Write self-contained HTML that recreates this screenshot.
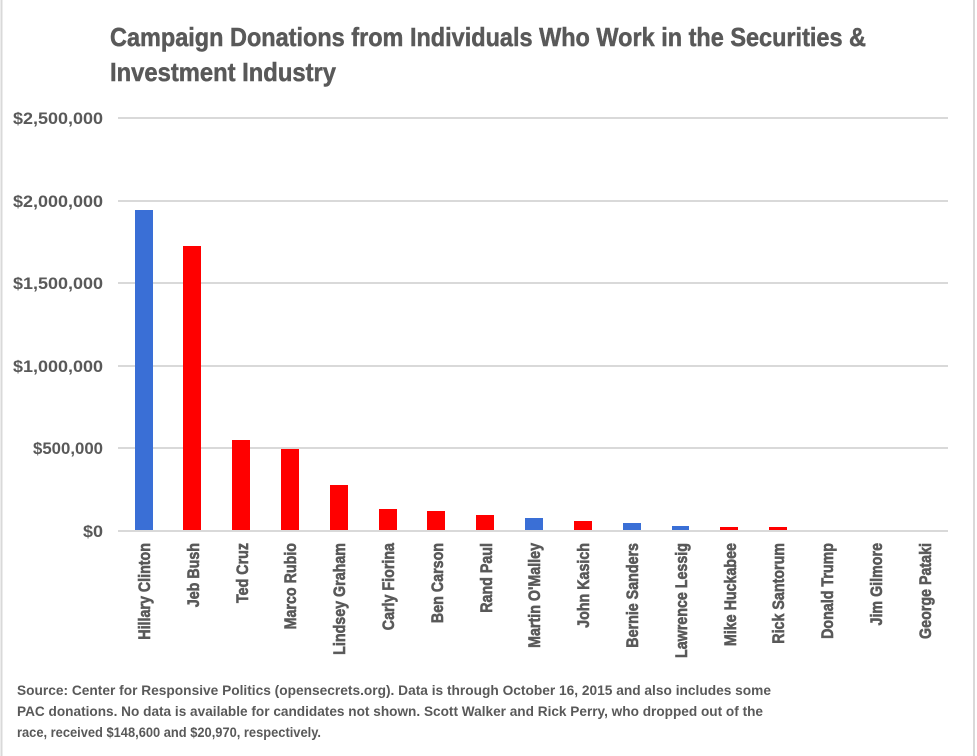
<!DOCTYPE html>
<html><head><meta charset="utf-8"><style>
body{margin:0;background:#fff;}
svg{display:block;font-family:"Liberation Sans",sans-serif;font-weight:bold;}
</style></head><body>
<svg width="977" height="756" viewBox="0 0 977 756">
<rect x="0" y="0" width="977" height="756" fill="#fff"/>
<line x1="1.5" y1="0" x2="1.5" y2="756" stroke="#d9d9d9" stroke-width="2"/>
<line x1="974" y1="0" x2="974" y2="756" stroke="#d9d9d9" stroke-width="2"/>
<g stroke="#595959" stroke-width="0.5">
<text x="110" y="46" font-size="26" fill="#595959" textLength="756" lengthAdjust="spacingAndGlyphs">Campaign Donations from Individuals Who Work in the Securities &amp;</text>
<text x="110" y="81" font-size="26" fill="#595959" textLength="226" lengthAdjust="spacingAndGlyphs">Investment Industry</text>
</g>
<g stroke="#d9d9d9" stroke-width="2">
<line x1="118" y1="118" x2="948" y2="118"/>
<line x1="118" y1="201" x2="948" y2="201"/>
<line x1="118" y1="283" x2="948" y2="283"/>
<line x1="118" y1="366" x2="948" y2="366"/>
<line x1="118" y1="448" x2="948" y2="448"/>
<line x1="118" y1="531" x2="948" y2="531"/>
</g>
<g font-size="17" fill="#595959" text-anchor="end">
<text x="103" y="124" textLength="90" lengthAdjust="spacingAndGlyphs">$2,500,000</text>
<text x="103" y="207" textLength="90" lengthAdjust="spacingAndGlyphs">$2,000,000</text>
<text x="103" y="289" textLength="90" lengthAdjust="spacingAndGlyphs">$1,500,000</text>
<text x="103" y="372" textLength="90" lengthAdjust="spacingAndGlyphs">$1,000,000</text>
<text x="103" y="454" textLength="70" lengthAdjust="spacingAndGlyphs">$500,000</text>
<text x="103" y="537" textLength="20" lengthAdjust="spacingAndGlyphs">$0</text>
</g>
<g>
<rect x="135" y="210" width="18" height="320" fill="#3a6fd6"/>
<rect x="183" y="246" width="18" height="284" fill="#ff0000"/>
<rect x="232" y="440" width="18" height="90" fill="#ff0000"/>
<rect x="281" y="449" width="18" height="81" fill="#ff0000"/>
<rect x="330" y="485" width="18" height="45" fill="#ff0000"/>
<rect x="379" y="509" width="18" height="21" fill="#ff0000"/>
<rect x="427" y="511" width="18" height="19" fill="#ff0000"/>
<rect x="476" y="515" width="18" height="15" fill="#ff0000"/>
<rect x="525" y="518" width="18" height="12" fill="#3a6fd6"/>
<rect x="574" y="521" width="18" height="9" fill="#ff0000"/>
<rect x="623" y="523" width="18" height="7" fill="#3a6fd6"/>
<rect x="672" y="526" width="17" height="4" fill="#3a6fd6"/>
<rect x="720" y="527" width="18" height="3" fill="#ff0000"/>
<rect x="769" y="527" width="18" height="3" fill="#ff0000"/>
</g>
<g font-size="17" fill="#595959" text-anchor="end" stroke="#595959" stroke-width="0.6">
<text transform="translate(150,543) rotate(-90) scale(0.84,1)">Hillary Clinton</text>
<text transform="translate(199,543) rotate(-90) scale(0.84,1)">Jeb Bush</text>
<text transform="translate(248,543) rotate(-90) scale(0.84,1)">Ted Cruz</text>
<text transform="translate(296,543) rotate(-90) scale(0.84,1)">Marco Rubio</text>
<text transform="translate(345,543) rotate(-90) scale(0.84,1)">Lindsey Graham</text>
<text transform="translate(394,543) rotate(-90) scale(0.84,1)">Carly Fiorina</text>
<text transform="translate(443,543) rotate(-90) scale(0.84,1)">Ben Carson</text>
<text transform="translate(492,543) rotate(-90) scale(0.84,1)">Rand Paul</text>
<text transform="translate(540,543) rotate(-90) scale(0.84,1)">Martin O'Malley</text>
<text transform="translate(589,543) rotate(-90) scale(0.84,1)">John Kasich</text>
<text transform="translate(638,543) rotate(-90) scale(0.84,1)">Bernie Sanders</text>
<text transform="translate(687,543) rotate(-90) scale(0.84,1)">Lawrence Lessig</text>
<text transform="translate(736,543) rotate(-90) scale(0.84,1)">Mike Huckabee</text>
<text transform="translate(784,543) rotate(-90) scale(0.84,1)">Rick Santorum</text>
<text transform="translate(833,543) rotate(-90) scale(0.84,1)">Donald Trump</text>
<text transform="translate(882,543) rotate(-90) scale(0.84,1)">Jim Gilmore</text>
<text transform="translate(931,543) rotate(-90) scale(0.84,1)">George Pataki</text>
</g>
<g font-size="14" fill="#595959">
<text x="17" y="695" textLength="754" lengthAdjust="spacingAndGlyphs">Source:  Center for Responsive Politics (opensecrets.org). Data is through October 16, 2015 and also includes some</text>
<text x="17" y="716" textLength="746" lengthAdjust="spacingAndGlyphs">PAC donations. No data is available for candidates not shown. Scott Walker and Rick Perry, who dropped out of the</text>
<text x="17" y="737" textLength="304" lengthAdjust="spacingAndGlyphs">race, received $148,600 and $20,970, respectively.</text>
</g>
</svg>
</body></html>
